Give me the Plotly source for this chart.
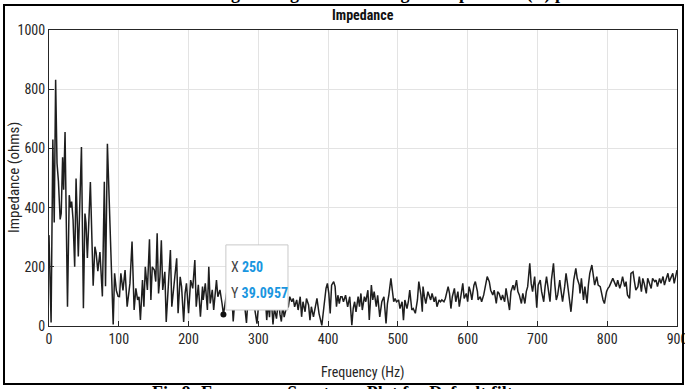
import plotly.graph_objects as go

# ---- data ----
freq_hz = [
    0, 1.5, 3, 5.5, 7.5, 9.5, 11.5, 13.5, 16, 17.5, 19.5, 21, 23, 26.5, 29, 31, 32.5, 34.5, 36.8, 38.8,
    42, 46.5, 49.3, 51.5, 53, 55, 59.3, 63.3, 65.8, 67.6, 70, 73, 76.5, 79.3, 81, 83.7, 87, 89.5, 92, 94,
    96.5, 99, 101, 103, 106, 109, 112, 116, 119, 122, 124.5, 127, 129, 131, 134, 136, 138, 141, 144, 146,
    148, 151, 153, 155, 157, 159, 161, 163, 166, 168, 170, 174, 176, 179, 183, 185, 188, 190, 193, 195,
    197, 200, 203, 206, 209, 211, 214, 217, 220, 221, 224, 227, 229, 231, 234, 236, 240, 242, 245, 248,
    250, 252, 255, 258, 261, 264, 267, 270, 273, 276, 279, 283, 286, 289, 292, 295, 298, 301, 304, 307,
    310, 312, 314, 316, 318, 321, 323, 326, 329, 331, 333, 335, 337, 340, 343, 345, 348, 350, 352, 355,
    357, 360, 362, 364, 367, 369, 372, 374, 376, 379, 382, 384, 387, 391, 394, 397, 399, 401, 403, 405,
    408, 410, 412, 414, 416, 418, 420, 422, 425, 428, 431, 434, 436, 438, 440, 443, 445, 447, 449, 452,
    454, 457, 459, 462, 464, 466, 469, 471, 474, 477, 480, 483, 485, 487, 490, 492, 494, 496, 498, 501,
    503, 506, 508, 510, 513, 515, 517, 520, 522, 525, 528, 530, 533, 535, 536, 538, 540, 543, 545, 547,
    549, 552, 554, 556, 559, 561, 563, 566, 568, 571, 572, 574, 576, 578, 581, 583, 586, 588, 591, 593,
    595, 598, 600, 602, 604, 606, 609, 611, 614, 615, 618, 620, 623, 626, 628, 631, 633, 636, 638, 641,
    643, 645, 648, 650, 653, 655, 657, 660, 662, 665, 667, 670, 672, 674, 677, 679, 682, 684, 686, 689,
    691, 693, 696, 699, 701, 704, 706, 709, 711, 713, 716, 718, 720, 723, 725, 727, 729, 732, 734, 736,
    739, 741, 743, 745, 748, 750, 752, 755, 757, 760, 761, 763, 766, 768, 771, 773, 775, 778, 780, 782,
    785, 787, 790, 792, 794, 796, 799, 801, 803, 806, 808, 811, 813, 815, 818, 820, 822, 825, 827, 829,
    832, 834, 837, 839, 841, 844, 846, 849, 851, 853, 856, 858, 861, 863, 865, 868, 870, 872, 875, 877,
    880, 882, 884, 887, 889, 891, 894, 896, 898, 900,
]
impedance_ohms = [
    307, 150, 12, 630, 350, 832, 550, 490, 360, 380, 570, 460, 655, 65, 442, 400, 420, 358, 200, 498,
    235, 605, 60, 380, 348, 230, 486, 136, 268, 246, 185, 250, 100, 487, 134, 616, 360, 230, 5, 178,
    120, 100, 99, 178, 120, 189, 65, 144, 285, 54, 127, 88, 99, 20, 155, 65, 200, 122, 293, 88,
    200, 189, 150, 313, 110, 166, 290, 122, 183, 14, 99, 257, 65, 144, 229, 43, 166, 133, 14, 110,
    144, 43, 155, 127, 223, 65, 139, 31, 133, 88, 144, 54, 200, 76, 122, 54, 155, 99, 122, 76,
    39.0957, 70, 120, 90, 150, 15, 110, 80, 140, 60, 100, 10, 120, 70, 130, 55, 8, 90, 140, 70,
    100, 20, 80, 30, 110, 5, 60, 25, 90, 40, 15, 70, 30, 60, 65, 99, 82, 93, 65, 88,
    54, 99, 31, 82, 48, 93, 71, 20, 65, 31, 71, 93, 42, 2, 65, 127, 144, 110, 42, 138,
    150, 133, 65, 104, 76, 99, 99, 82, 104, 65, 99, 3, 60, 82, 48, 99, 65, 110, 54, 99,
    82, 121, 20, 138, 88, 116, 65, 104, 31, 82, 99, 9, 76, 104, 161, 110, 82, 93, 82, 88,
    59, 82, 20, 88, 59, 82, 121, 54, 59, 43, 88, 150, 105, 48, 133, 99, 76, 116, 105, 88,
    110, 82, 99, 65, 88, 82, 88, 82, 93, 121, 133, 110, 59, 99, 127, 82, 116, 65, 121, 144,
    93, 110, 82, 133, 116, 88, 138, 150, 116, 88, 99, 82, 105, 138, 167, 150, 121, 105, 121, 76,
    116, 110, 88, 105, 82, 127, 99, 54, 116, 138, 121, 155, 116, 105, 76, 110, 76, 116, 133, 212,
    144, 116, 167, 62, 138, 155, 116, 82, 133, 167, 116, 82, 155, 212, 138, 88, 105, 155, 116, 82,
    133, 178, 144, 105, 48, 99, 155, 195, 161, 138, 110, 161, 88, 133, 76, 138, 178, 206, 161, 138,
    167, 138, 133, 105, 88, 76, 116, 127, 133, 150, 161, 144, 133, 155, 127, 144, 167, 133, 150, 105,
    93, 178, 183, 150, 121, 133, 167, 116, 161, 144, 110, 161, 138, 127, 161, 150, 155, 133, 161, 144,
    167, 138, 155, 178, 150, 161, 178, 144, 167, 189,
]

x_ticks = [0, 100, 200, 300, 400, 500, 600, 700, 800, 900]
y_ticks = [0, 200, 400, 600, 800, 1000]

tip_x = [250]
tip_y = [39.0957]

chart_title = "Impedance"
x_title = "Frequency (Hz)"
y_title = "Impedance (ohms)"
top_caption = "Fig 7: Magnitude of the grid Impedance (Z) plot"
bottom_caption = "Fig 8: Frequency Spectrum Plot for Default filter"

FONT = "Liberation Sans Narrow, Arial Narrow, Roboto Condensed, Liberation Sans, Arial, sans-serif"
AX = "#262626"

# plot area in pixels: x 49..677, y 30..326
L, R, T, B = 49, 8, 30, 63
W, H = 685, 389
pw, ph = W - L - R, H - T - B


def px(xp):
    return (xp - L) / pw


def py(yp):
    return (H - B - yp) / ph


fig = go.Figure()
fig.add_trace(go.Scatter(
    x=freq_hz, y=impedance_ohms, mode="lines",
    line=dict(color="#1e1e1e", width=1.5),
    hoverinfo="skip", showlegend=False,
))
fig.add_trace(go.Scatter(
    x=tip_x, y=tip_y, mode="markers",
    marker=dict(color="#111111", size=6),
    hoverinfo="skip", showlegend=False,
))

axis_common = dict(
    showgrid=True, gridcolor="#e3e3e3", gridwidth=1,
    showline=True, linecolor=AX, linewidth=1, mirror=True,
    ticks="inside", ticklen=5, tickcolor=AX,
    tickfont=dict(family=FONT, size=14, color=AX),
    zeroline=False, ticklabeloverflow="allow",
)

fig.update_layout(
    width=W, height=H,
    margin=dict(l=L, r=R, t=T, b=B, autoexpand=False),
    paper_bgcolor="white", plot_bgcolor="white",
    xaxis=dict(range=[0, 900], tickvals=x_ticks, **axis_common),
    yaxis=dict(range=[0, 1000], tickvals=y_ticks, **axis_common),
    showlegend=False,
)

shapes = [
    # outer figure frame
    dict(type="rect", xref="paper", yref="paper",
         x0=px(4), x1=px(683), y0=py(384), y1=py(5),
         line=dict(color="black", width=2), fillcolor="rgba(0,0,0,0)", layer="above"),
    # datatip box
    dict(type="rect", xref="x", yref="y",
         x0=253.5, x1=342.5, y0=54, y1=274,
         line=dict(color="#c9c9c9", width=1), fillcolor="white", layer="above"),
]
fig.update_layout(shapes=shapes)

blue = "#1a96e0"
annotations = [
    dict(text="<b>" + chart_title + "</b>", xref="paper", yref="paper", x=px(363), y=py(15),
         xanchor="center", yanchor="middle",
         showarrow=False, font=dict(family=FONT, size=14, color="#111111")),
    dict(text=x_title, xref="paper", yref="paper", x=px(363), y=py(372),
         xanchor="center", yanchor="middle",
         showarrow=False, font=dict(family=FONT, size=14, color=AX)),
    dict(text=y_title, xref="paper", yref="paper", x=px(14), y=py(178),
         xanchor="center", yanchor="middle",
         textangle=-90, showarrow=False, font=dict(family=FONT, size=15, color=AX)),
    dict(text='X <span style="color:%s"><b>250</b></span>' % blue,
         xref="x", yref="y", x=258, y=198, xanchor="left", yanchor="middle", showarrow=False,
         font=dict(family=FONT, size=14, color="#444444")),
    dict(text='Y <span style="color:%s"><b>39.0957</b></span>' % blue,
         xref="x", yref="y", x=258, y=112, xanchor="left", yanchor="middle", showarrow=False,
         font=dict(family=FONT, size=14, color="#444444")),
    dict(text="<b>" + top_caption + "</b>", xref="paper", yref="paper", x=px(400), y=py(-6),
         xanchor="center", yanchor="middle",
         showarrow=False, font=dict(family="Liberation Serif, serif", size=18, color="black")),
    dict(text="<b>" + bottom_caption + "</b>", xref="paper", yref="paper", x=px(340), y=py(393),
         xanchor="center", yanchor="middle",
         showarrow=False, font=dict(family="Liberation Serif, serif", size=18, color="black")),
]
fig.update_layout(annotations=annotations)

fig.write_html(
    "out.html",
    config={"displayModeBar": False},
    post_script="document.body.style.margin='0';document.body.style.overflow='hidden';",
)
